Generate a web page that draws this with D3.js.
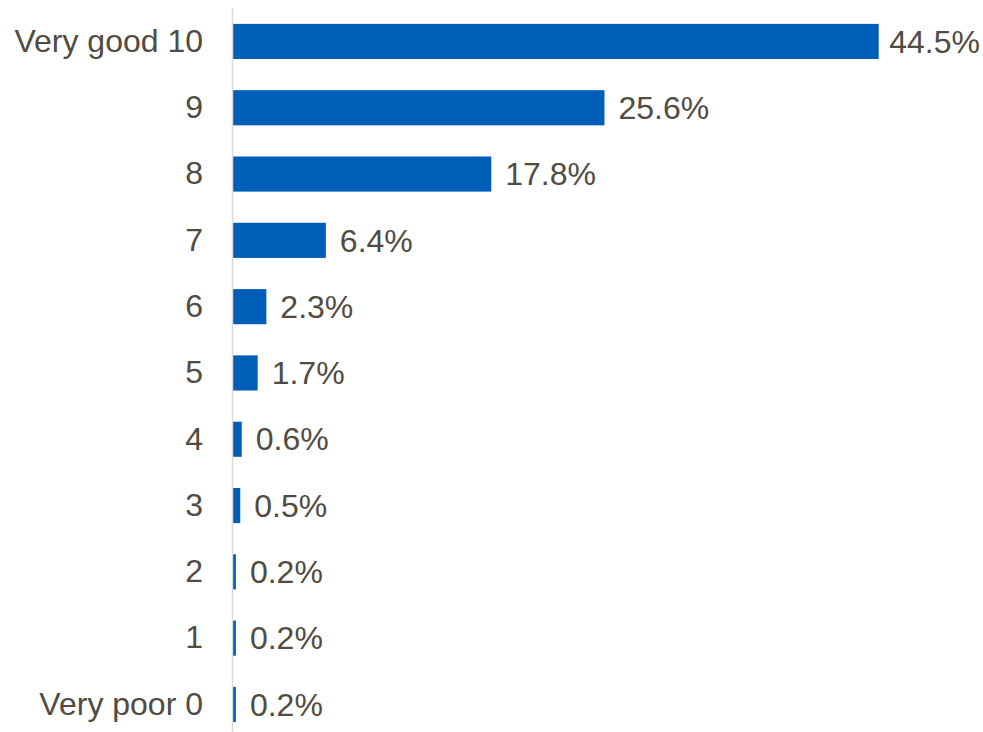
<!DOCTYPE html>
<html>
<head>
<meta charset="utf-8">
<script src="https://cdn.jsdelivr.net/npm/d3@7"></script>
<style>
  html, body { margin: 0; padding: 0; background: #ffffff; }
  svg { display: block; }
</style>
</head>
<body>
<svg id="chart" width="983" height="732"></svg>
<script>
// Satisfaction rating, share of responses per score
const categories = ["Very good 10", "9", "8", "7", "6", "5", "4", "3", "2", "1", "Very poor 0"];
const values = [44.5, 25.6, 17.8, 6.4, 2.3, 1.7, 0.6, 0.5, 0.2, 0.2, 0.2];
const valueLabels = ["44.5%", "25.6%", "17.8%", "6.4%", "2.3%", "1.7%", "0.6%", "0.5%", "0.2%", "0.2%", "0.2%"];

const width = 983;
const svg = d3.select("#chart");
const textColor = "#514b42";
const barColor = "#005EB8";
const fontFamily = "'Liberation Sans', Arial, sans-serif";
const fontSize = 32;

const x0 = 233;
const x = d3.scaleLinear().domain([0, 50]).range([x0, x0 + 14.51 * 50]);
const y = d3.scaleBand().domain(categories).range([8.3, 737.6]).paddingInner(0.47).paddingOuter(0.235);

// bars
svg.append("g").selectAll("rect")
  .data(values)
  .join("rect")
  .attr("x", x(0))
  .attr("y", (d, i) => y(categories[i]))
  .attr("width", d => x(d) - x(0))
  .attr("height", y.bandwidth())
  .attr("fill", barColor);

// vertical category axis line
svg.append("line")
  .attr("x1", x0 - 0.5).attr("x2", x0 - 0.5)
  .attr("y1", 8).attr("y2", 732)
  .attr("stroke", "#d9d9d9").attr("stroke-width", 1.5);

// category labels
const yAxis = d3.axisLeft(y).tickSize(0).tickPadding(30);
const ag = svg.append("g").attr("transform", `translate(${x0},0)`).call(yAxis);
ag.select(".domain").remove();
ag.selectAll("text")
  .attr("fill", textColor)
  .style("font-family", fontFamily)
  .style("font-size", fontSize + "px");

// value labels, kept inside the plot's right edge
const labels = svg.append("g").selectAll("text")
  .data(values)
  .join("text")
  .attr("y", (d, i) => y(categories[i]) + y.bandwidth() / 2)
  .attr("dy", "0.35em")
  .attr("fill", textColor)
  .style("font-family", fontFamily)
  .style("font-size", fontSize + "px")
  .text((d, i) => valueLabels[i]);
labels.attr("x", function (d) {
  const w = this.getComputedTextLength();
  return Math.min(x(d) + 14, width - 3 - w);
});
</script>
</body>
</html>
